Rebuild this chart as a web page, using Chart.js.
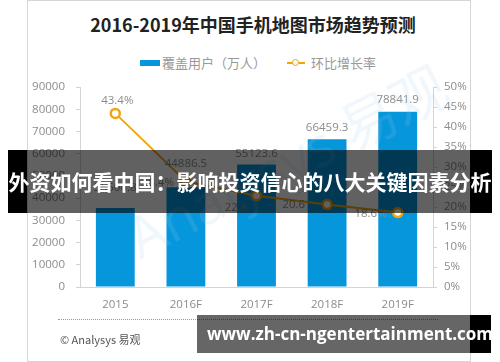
<!DOCTYPE html>
<html>
<head>
<meta charset="utf-8">
<script src="https://cdn.jsdelivr.net/npm/chart.js@4.4.1/dist/chart.umd.min.js"></script>
<style>
  html, body { margin:0; padding:0; }
  body { width:500px; height:362px; position:relative; overflow:hidden; background:#fff;
         font-family:"Noto Sans CJK SC","Noto Sans",sans-serif; }
  .abs { position:absolute; }
  #card { left:27px; top:0px; width:442px; height:360px; border:1px solid #d6d6d6; box-sizing:content-box; }
  #title { left:0; top:10px; width:506px; text-align:center; font-size:18px; font-weight:bold; color:#222; line-height:28px; white-space:nowrap; }
  .legtxt { font-size:13px; color:#999; line-height:18px; top:54px; white-space:nowrap; }
  #c { left:0; top:0; }
  #wm { left:110px; top:118px; font-size:56px; font-family:"Open Sans","Noto Sans CJK SC",sans-serif; color:rgba(160,205,235,0.16); transform:rotate(-27deg); transform-origin:50% 50%; white-space:nowrap; }
  #fline { left:58px; top:319px; width:380px; border-top:1px dotted #999; }
  #ftxt { left:60px; top:331px; font-size:11px; color:#555; line-height:16px; white-space:nowrap; font-family:"Noto Sans CJK SC",sans-serif; }
  #banner { left:8px; top:150px; width:484px; height:63px; line-height:63px; text-align:center; color:#fff; font-size:21px; font-weight:bold; white-space:nowrap; }
  #url { left:207px; top:315px; height:38px; line-height:38px; color:#fff; font-size:17px; font-weight:bold; white-space:nowrap; font-family:"Open Sans","DejaVu Sans",sans-serif; }
</style>
</head>
<body>
<div id="card" class="abs"></div>
<div id="title" class="abs">2016-2019年中国手机地图市场趋势预测</div>
<div class="abs" style="left:140px;top:60px;width:20px;height:6px;background:#0596dc;"></div>
<div class="abs legtxt" style="left:162px;">覆盖用户（万人）</div>
<div class="abs" style="left:287px;top:62px;width:18px;height:2px;background:#f2a60c;"></div>
<div class="abs" style="left:292px;top:59px;width:5px;height:5px;border:1.5px solid #f2a60c;border-radius:50%;background:#fff;"></div>
<div class="abs legtxt" style="left:311px;">环比增长率</div>

<canvas id="c" class="abs" width="500" height="362"></canvas>
<div id="wm" class="abs">Analysys 易观</div>

<div id="fline" class="abs"></div>
<div id="ftxt" class="abs">© Analysys 易观</div>

<div class="abs" style="left:8px;top:150px;width:19px;height:63px;background:#000;"></div>
<div class="abs" style="left:27px;top:150px;width:443px;height:63px;background:rgba(0,0,0,0.62);"></div>
<div class="abs" style="left:470px;top:150px;width:22px;height:63px;background:#000;"></div>
<div id="banner" class="abs">外资如何看中国：影响投资信心的八大关键因素分析</div>

<div class="abs" style="left:197px;top:315px;width:273px;height:38px;background:rgba(0,0,0,0.6);"></div>
<div class="abs" style="left:470px;top:315px;width:21px;height:38px;background:#000;"></div>
<div id="url" class="abs">www.zh-cn-ngentertainment.com</div>

<script>
const categories = ['2015', '2016F', '2017F', '2018F', '2019F'];
const users = [35500.8, 44886.5, 55123.6, 66459.3, 78841.9];
const growth = [43.4, 26.4, 22.8, 20.6, 18.6];
const growthLabels = ['43.4%', '26.4%', '22.8', '20.6', '18.6%'];
const leftTicks = [0, 10000, 20000, 30000, 40000, 50000, 60000, 70000, 80000, 90000];
const rightTicks = [0, 5, 10, 15, 20, 25, 30, 35, 40, 45, 50];

const BLUE = '#0596dc';
const ORANGE = '#f2a60c';
const GREY = '#8c8c8c';
const AXIS = '#d4d4d4';
const TICKFONT = { family: '"Open Sans","Noto Sans",sans-serif', size: 11.5 };

const labelPlugin = {
  id: 'valLabels',
  afterDatasetsDraw(chart) {
    const ctx = chart.ctx;
    ctx.save();
    ctx.font = '11.5px "Open Sans","Noto Sans",sans-serif';
    ctx.fillStyle = GREY;
    ctx.textBaseline = 'middle';
    const barOff = [-20, -24, -11, -12, -12];
    chart.getDatasetMeta(0).data.forEach((el, i) => {
      ctx.textAlign = 'center';
      ctx.fillText(users[i].toFixed(1), el.x, el.y + barOff[i]);
    });
    const lineOff = [[2, -13, 'center'], [-12, 1, 'right'], [-9, 12, 'right'], [-22, 0, 'right'], [-11, 1, 'right']];
    chart.getDatasetMeta(1).data.forEach((el, i) => {
      ctx.textAlign = lineOff[i][2];
      ctx.fillText(growthLabels[i], el.x + lineOff[i][0], el.y + lineOff[i][1]);
    });
    ctx.restore();
  }
};

new Chart(document.getElementById('c'), {
  data: {
    labels: categories,
    datasets: [
      {
        type: 'bar', label: '覆盖用户（万人）', data: users, yAxisID: 'y',
        backgroundColor: BLUE, barPercentage: 0.55, categoryPercentage: 1, order: 2
      },
      {
        type: 'line', label: '环比增长率', data: growth, yAxisID: 'y1',
        borderColor: ORANGE, borderWidth: 2, tension: 0,
        pointRadius: 4.5, pointBackgroundColor: '#fff', pointBorderColor: ORANGE, pointBorderWidth: 2.5,
        order: 1
      }
    ]
  },
  options: {
    responsive: false,
    devicePixelRatio: 1,
    animation: false,
    layout: { padding: { left: 0, right: 27, top: 87, bottom: 45 } },
    plugins: { legend: { display: false }, title: { display: false }, tooltip: { enabled: false } },
    scales: {
      x: {
        type: 'category',
        grid: { display: false, drawTicks: false },
        border: { display: true, color: AXIS, width: 1 },
        ticks: { color: GREY, font: TICKFONT, padding: 11 },
        afterFit(s) { s.height = 30; }
      },
      y: {
        position: 'left', min: 0, max: 90000,
        afterBuildTicks(s) { s.ticks = leftTicks.map(v => ({ value: v })); },
        grid: { display: true, drawOnChartArea: false, drawTicks: true, tickLength: 4, color: AXIS },
        border: { display: true, color: AXIS, width: 1 },
        ticks: { color: GREY, font: TICKFONT, padding: 11, callback: v => String(v) },
        afterFit(s) { s.width = 80; }
      },
      y1: {
        position: 'right', min: 0, max: 50,
        afterBuildTicks(s) { s.ticks = rightTicks.map(v => ({ value: v })); },
        grid: { display: true, drawOnChartArea: false, drawTicks: true, tickLength: 4, color: AXIS },
        border: { display: true, color: AXIS, width: 1 },
        ticks: { color: GREY, font: TICKFONT, padding: 7, callback: v => v + '%' },
        afterFit(s) { s.width = 40; }
      }
    }
  },
  plugins: [labelPlugin]
});
</script>
</body>
</html>
